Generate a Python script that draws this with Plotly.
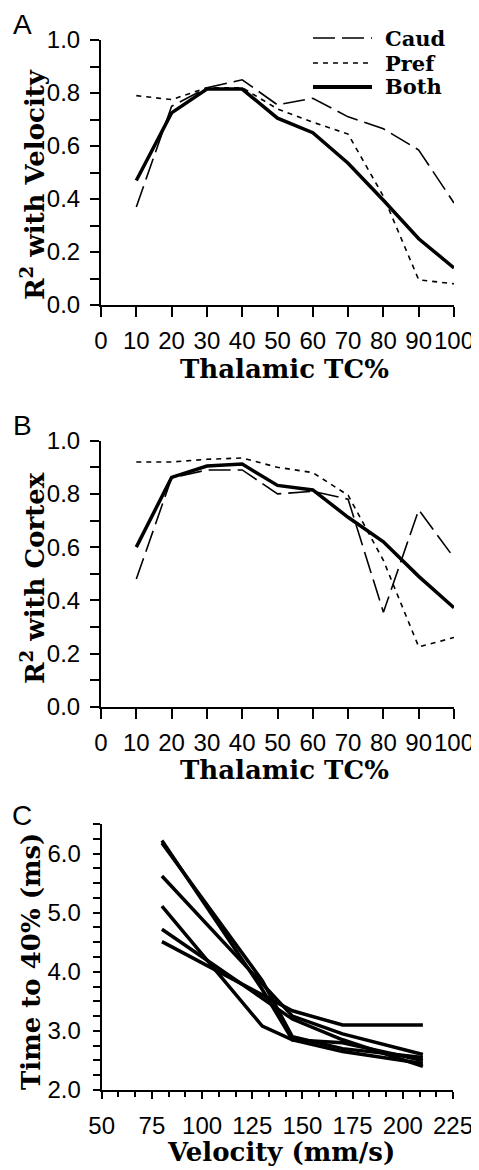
import plotly.graph_objects as go

# ---------------- data ----------------
tc_pct = [10, 20, 30, 40, 50, 60, 70, 80, 90, 100]

vel_caud = [0.37, 0.75, 0.82, 0.85, 0.755, 0.78, 0.71, 0.665, 0.585, 0.385]
vel_pref = [0.79, 0.775, 0.82, 0.82, 0.74, 0.69, 0.645, 0.41, 0.095, 0.08]
vel_both = [0.47, 0.725, 0.815, 0.815, 0.705, 0.65, 0.535, 0.395, 0.25, 0.14]

ctx_caud = [0.48, 0.86, 0.89, 0.89, 0.80, 0.81, 0.78, 0.355, 0.74, 0.56]
ctx_pref = [0.92, 0.92, 0.93, 0.935, 0.90, 0.88, 0.795, 0.55, 0.225, 0.26]
ctx_both = [0.60, 0.862, 0.905, 0.912, 0.832, 0.815, 0.712, 0.62, 0.49, 0.372]

velocity = [80, 130, 145, 170, 210]
time_lines = [
    [6.22, 3.70, 2.85, 2.80, 2.50],
    [6.18, 3.85, 2.90, 2.70, 2.55],
    [5.62, 3.80, 3.25, 2.95, 2.60],
    [5.11, 3.08, 2.85, 2.65, 2.45],
    [4.72, 3.55, 3.20, 2.85, 2.40],
    [4.51, 3.62, 3.34, 3.10, 3.10],
]

series_names = ["Caud", "Pref", "Both"]

# ---------------- styles ----------------
W, H = 479, 1170
OFF = 8  # page body margin
BLACK = "#000000"
TICKFONT = dict(family="Liberation Sans, Arial, sans-serif", size=24, color=BLACK)
TITLEFONT = dict(family="DejaVu Serif, serif", size=26, color=BLACK, weight="bold")
styles = {
    "Caud": dict(color=BLACK, width=1.6, dash="22px,7px"),
    "Pref": dict(color=BLACK, width=1.6, dash="5px,5px"),
    "Both": dict(color=BLACK, width=3.5),
}

def px_x(p):
    return (p - OFF) / W

def px_y(p):
    return 1 - (p - OFF) / H

fig = go.Figure()

for name, vals in zip(series_names, [vel_caud, vel_pref, vel_both]):
    fig.add_trace(go.Scatter(x=tc_pct, y=vals, mode="lines", name=name,
                             line=styles[name], xaxis="x", yaxis="y",
                             showlegend=False))
for name, vals in zip(series_names, [ctx_caud, ctx_pref, ctx_both]):
    fig.add_trace(go.Scatter(x=tc_pct, y=vals, mode="lines", name=name,
                             line=styles[name], xaxis="x2", yaxis="y2",
                             showlegend=False))
for i, vals in enumerate(time_lines):
    fig.add_trace(go.Scatter(x=velocity, y=vals, mode="lines", name=f"line {i+1}",
                             line=dict(color=BLACK, width=3.5), xaxis="x3", yaxis="y3",
                             showlegend=False))

xdom = [px_x(101), px_x(454)]
common_axis = dict(showline=True, linecolor=BLACK, linewidth=2, ticks="outside",
                   tickcolor=BLACK, tickwidth=2, showgrid=False, zeroline=False,
                   tickfont=TICKFONT, automargin=False, tickangle=0)

def xaxis_tc(anchor):
    return dict(common_axis, domain=xdom, anchor=anchor, range=[0, 100],
                tickvals=list(range(0, 101, 10)), ticklen=10, ticklabelstandoff=3)

def yaxis_r2(anchor, dom):
    return dict(common_axis, domain=dom, anchor=anchor, range=[0, 1.0],
                tickvals=[0, 0.2, 0.4, 0.6, 0.8, 1.0], tickformat=".1f", ticklen=9,
                ticklabelstandoff=5,
                minor=dict(dtick=0.1, tick0=0, ticks="outside", ticklen=9,
                           tickwidth=2, tickcolor=BLACK, showgrid=False))

fig.update_layout(
    width=W, height=H,
    margin=dict(l=0, r=0, t=0, b=0, autoexpand=False),
    paper_bgcolor="white", plot_bgcolor="white",
    xaxis=xaxis_tc("y"),
    yaxis=yaxis_r2("x", [px_y(305), px_y(40)]),
    xaxis2=xaxis_tc("y2"),
    yaxis2=yaxis_r2("x2", [px_y(706.7), px_y(440.7)]),
    xaxis3=dict(common_axis, domain=[px_x(101.7), px_x(453)], anchor="y3",
                range=[50, 225], tickvals=[50, 75, 100, 125, 150, 175, 200, 225],
                ticklen=7, ticklabelstandoff=6,
                minor=dict(dtick=25 / 3, tick0=50, ticks="outside", ticklen=5,
                           tickwidth=2, tickcolor=BLACK, showgrid=False)),
    yaxis3=dict(common_axis, domain=[px_y(1090), px_y(824)], anchor="x3",
                range=[2.0, 6.5], tickvals=[2, 3, 4, 5, 6], tickformat=".1f",
                ticklen=7, ticklabelstandoff=7,
                minor=dict(dtick=0.25, tick0=2, ticks="outside", ticklen=7,
                           tickwidth=2, tickcolor=BLACK, showgrid=False)),
)

ann = []
# panel letters
for letter, (x, y) in {"A": (22, 25), "B": (22, 425), "C": (22, 815)}.items():
    ann.append(dict(text=letter, x=px_x(x), y=px_y(y), xref="paper", yref="paper",
                    showarrow=False, xanchor="center", yanchor="middle",
                    font=dict(family="Liberation Sans, Arial, sans-serif", size=28, color=BLACK)))
# axis titles
for text, x, y, ang in [
    ("Thalamic TC%", 284, 369, 0),
    ("R<sup>2</sup> with Velocity", 33, 185, -90),
    ("Thalamic TC%", 284, 770, 0),
    ("R<sup>2</sup> with Cortex", 33, 578, -90),
    ("Velocity (mm/s)", 281, 1152, 0),
    ("Time to 40% (ms)", 31, 962, -90),
]:
    ann.append(dict(text=text, x=px_x(x), y=px_y(y), xref="paper", yref="paper",
                    showarrow=False, xanchor="center", yanchor="middle", textangle=ang,
                    font=TITLEFONT))

# legend (panel A)
shapes = []
for i, name in enumerate(series_names):
    yy = [38, 63, 87][i]
    st = styles[name]
    shapes.append(dict(type="line", xref="paper", yref="paper",
                       x0=px_x(313), x1=px_x(372), y0=px_y(yy), y1=px_y(yy),
                       line=dict(color=BLACK, width=st["width"] if name != "Both" else 4,
                                 dash=st.get("dash", "solid"))))
    ann.append(dict(text=name, x=px_x(383), y=px_y(yy), xref="paper", yref="paper",
                    showarrow=False, xanchor="left", yanchor="middle",
                    font=dict(family="DejaVu Serif, serif", size=21, color=BLACK, weight="bold")))

fig.update_layout(annotations=ann, shapes=shapes)

fig.write_html("out.html")
